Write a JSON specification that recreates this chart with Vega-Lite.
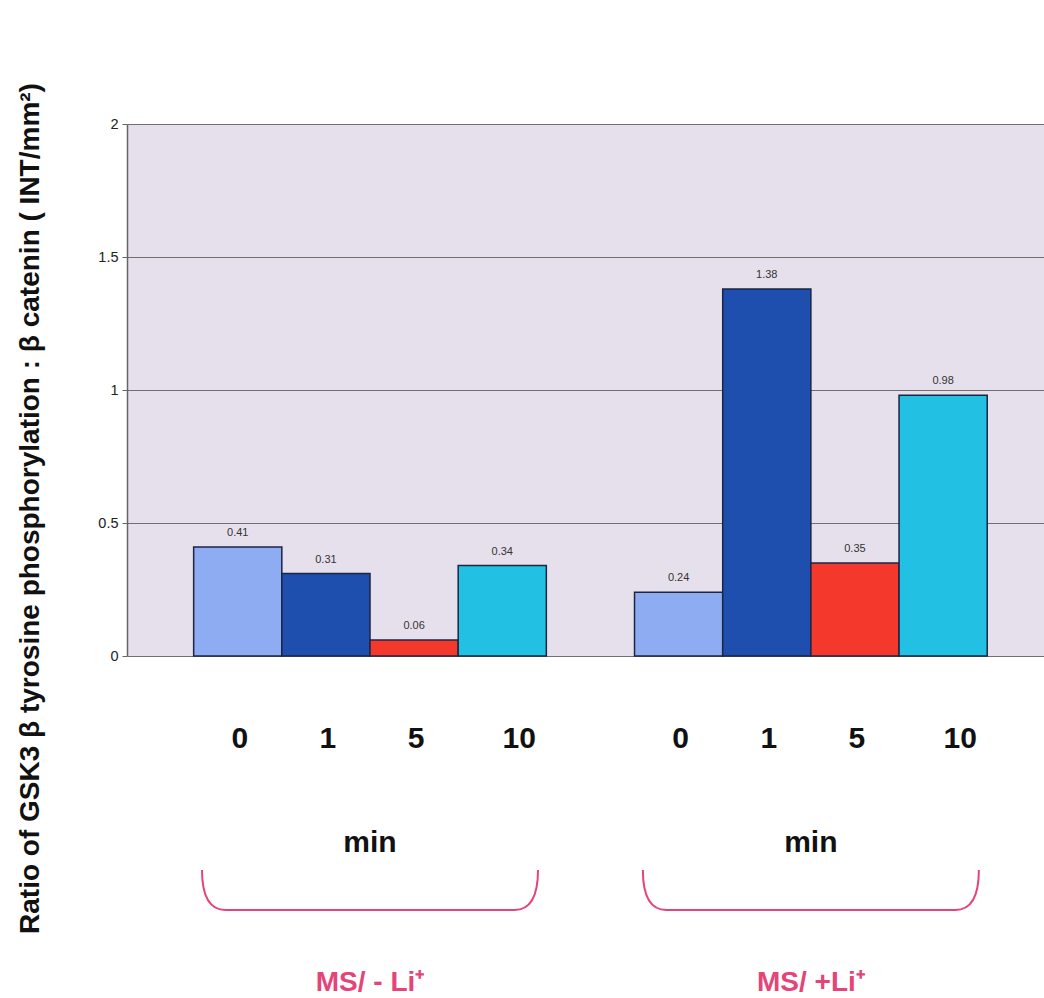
{
  "$schema": "https://vega.github.io/schema/vega-lite/v6.json",
  "padding": {"left": 15, "top": 82, "right": 0, "bottom": 0},
  "background": "white",
  "config": {"view": {"stroke": null}, "font": "Liberation Sans"},
  "datasets": {
    "bars": [
      {"cond": "MS/ - Li⁺", "time": "0", "value": 0.41},
      {"cond": "MS/ - Li⁺", "time": "1", "value": 0.31},
      {"cond": "MS/ - Li⁺", "time": "5", "value": 0.06},
      {"cond": "MS/ - Li⁺", "time": "10", "value": 0.34},
      {"cond": "MS/ +Li⁺", "time": "0", "value": 0.24},
      {"cond": "MS/ +Li⁺", "time": "1", "value": 1.38},
      {"cond": "MS/ +Li⁺", "time": "5", "value": 0.35},
      {"cond": "MS/ +Li⁺", "time": "10", "value": 0.98}
    ],
    "groups": [
      {"cond": "MS/ - Li⁺", "unit": "min"},
      {"cond": "MS/ +Li⁺", "unit": "min"}
    ]
  },
  "bounds": "flush",
  "spacing": 0,
  "resolve": {"scale": {"x": "independent", "y": "independent", "xOffset": "independent"}},
  "vconcat": [
    {
      "width": 917,
      "height": 532,
      "view": {"fill": "#E6E0EC", "stroke": null},
      "data": {"name": "bars"},
      "encoding": {
        "x": {"field": "cond", "type": "nominal", "sort": ["MS/ - Li⁺", "MS/ +Li⁺"], "scale": {"paddingInner": 0.2, "paddingOuter": 0.14, "align": 0.54}, "axis": null},
        "xOffset": {"field": "time", "type": "nominal", "sort": ["0", "1", "5", "10"]},
        "y": {
          "field": "value", "type": "quantitative", "scale": {"domain": [0, 2]},
          "axis": {
            "values": [0, 0.5, 1, 1.5, 2], "format": "~g",
            "grid": true, "gridColor": "#707070", "gridWidth": 1,
            "domainColor": "#666666", "domainWidth": 1.5, "tickColor": "#666666", "tickSize": 5,
            "labelFontSize": 14.5, "labelColor": "#222222", "labelPadding": 4, "labelFont": "Liberation Sans",
            "title": "Ratio of GSK3 β tyrosine phosphorylation : β catenin ( INT/mm²)",
            "titleFontSize": 28, "titleFontWeight": "bold", "titleColor": "#111111", "titleFont": "Liberation Sans",
            "titleX": -97, "titleY": 384, "titleBaseline": "middle", "titleAngle": -90, "titleAlign": "center"
          }
        }
      },
      "layer": [
        {
          "mark": {"type": "bar", "stroke": "#1C2544", "strokeWidth": 1.5},
          "encoding": {
            "color": {"field": "time", "type": "nominal", "scale": {"domain": ["0", "1", "5", "10"], "range": ["#8EACF2", "#1E4FAF", "#F5382C", "#22C0E3"]}, "legend": null}
          }
        },
        {
          "mark": {"type": "text", "fontSize": 11, "color": "#333333", "dy": -14},
          "encoding": {"text": {"field": "value", "type": "quantitative", "format": ".2f"}}
        }
      ]
    },
    {
      "width": 917,
      "height": 342,
      "layer": [
        {
          "data": {"name": "bars"},
          "mark": {"type": "text", "fontSize": 30, "fontWeight": "bold", "color": "#111111", "dy": 11, "dx": {"expr": "datum.time == '10' ? 17 : 2"}},
          "encoding": {
            "x": {"field": "cond", "type": "nominal", "sort": ["MS/ - Li⁺", "MS/ +Li⁺"], "scale": {"paddingInner": 0.2, "paddingOuter": 0.14, "align": 0.54}, "axis": null},
            "xOffset": {"field": "time", "type": "nominal", "sort": ["0", "1", "5", "10"]},
            "y": {"datum": "time", "type": "ordinal", "scale": {"type": "point", "domain": ["time", "min", "brace", "condition"], "padding": 0.611, "align": 0.727}, "axis": null},
            "text": {"field": "time", "type": "nominal"}
          }
        },
        {
          "data": {"name": "groups"},
          "mark": {"type": "text", "fontSize": 30, "fontWeight": "bold", "color": "#111111", "dy": 34},
          "encoding": {
            "x": {"field": "cond", "type": "nominal", "sort": ["MS/ - Li⁺", "MS/ +Li⁺"]},
            "y": {"datum": "min", "type": "ordinal"},
            "text": {"field": "unit", "type": "nominal"}
          }
        },
        {
          "data": {"name": "groups"},
          "mark": {"type": "point", "shape": "M -1 -0.119 C -1 0.04 -0.95 0.119 -0.86 0.119 L 0.86 0.119 C 0.95 0.119 1 0.04 1 -0.119", "size": 112896, "filled": false, "color": "#E5447A", "stroke": "#E5447A", "strokeWidth": 2, "opacity": 1},
          "encoding": {
            "x": {"field": "cond", "type": "nominal", "sort": ["MS/ - Li⁺", "MS/ +Li⁺"]},
            "y": {"datum": "brace", "type": "ordinal"}
          }
        },
        {
          "data": {"name": "groups"},
          "mark": {"type": "text", "fontSize": 28, "fontWeight": "bold", "color": "#E5447A", "dy": 12},
          "encoding": {
            "x": {"field": "cond", "type": "nominal", "sort": ["MS/ - Li⁺", "MS/ +Li⁺"]},
            "y": {"datum": "condition", "type": "ordinal"},
            "text": {"field": "cond", "type": "nominal"}
          }
        }
      ]
    }
  ]
}
